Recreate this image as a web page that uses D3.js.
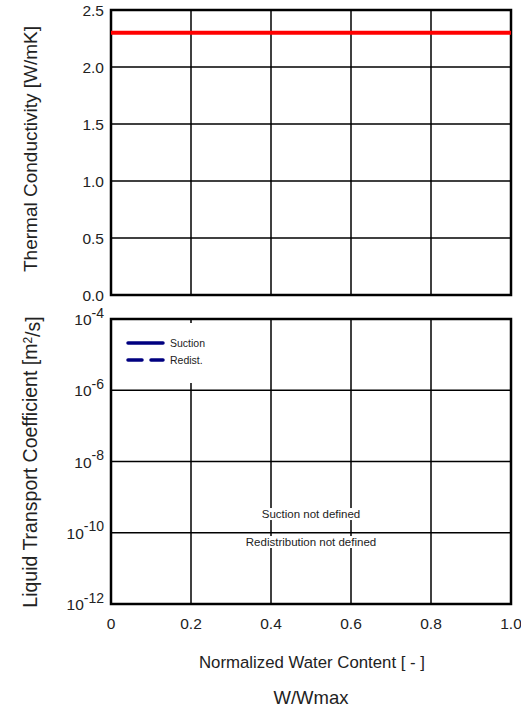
<!DOCTYPE html>
<html><head><meta charset="utf-8">
<script src="https://cdn.jsdelivr.net/npm/d3@7"></script>
<style>
body{margin:0;background:#fff;}
text{font-family:"Liberation Sans",Arial,sans-serif;}
</style></head>
<body><svg id="c" width="521" height="712"></svg>
<script>
const xTicks = [0, 0.2, 0.4, 0.6, 0.8, 1.0];
const xTickLabels = ["0", "0.2", "0.4", "0.6", "0.8", "1.0"];
const tcTicks = [0, 0.5, 1.0, 1.5, 2.0, 2.5];
const tcWater = [0, 1];
const tcValues = [2.3, 2.3];
const ltcExponents = [-12, -10, -8, -6, -4];
const legendNames = ["Suction", "Redist."];
const notes = ["Suction not defined", "Redistribution not defined"];

const svg = d3.select("#c");
const L = 111, R = 511;
const x = d3.scaleLinear().domain([0, 1]).range([L, R]);
const yT = d3.scaleLinear().domain([0, 2.5]).range([295, 10]);
const yL = d3.scaleLog().domain([1e-12, 1e-4]).range([604, 319]);
const txt = "#222";

// top panel grid
const g1 = svg.append("g");
g1.selectAll(".vg").data(xTicks).join("line")
  .attr("x1", d => x(d)).attr("x2", d => x(d)).attr("y1", yT(0)).attr("y2", yT(2.5))
  .attr("stroke", "#000").attr("stroke-width", 1.5);
g1.selectAll(".hg").data(tcTicks).join("line")
  .attr("x1", L).attr("x2", R).attr("y1", d => yT(d)).attr("y2", d => yT(d))
  .attr("stroke", "#000").attr("stroke-width", 1.5);
g1.append("rect").attr("x", L).attr("y", yT(2.5)).attr("width", R - L).attr("height", yT(0) - yT(2.5))
  .attr("fill", "none").attr("stroke", "#000").attr("stroke-width", 2.5);
g1.selectAll(".tl").data(tcTicks).join("text")
  .attr("x", 104).attr("y", d => yT(d)).attr("dy", "0.36em").attr("text-anchor", "end")
  .attr("font-size", 15.5).attr("fill", txt).text(d => d.toFixed(1));
const line = d3.line().x((d, i) => x(tcWater[i])).y(d => yT(d));
g1.append("path").datum(tcValues).attr("d", line)
  .attr("fill", "none").attr("stroke", "#ff0000").attr("stroke-width", 4);

// bottom panel
const g2 = svg.append("g");
g2.selectAll(".vg").data(xTicks).join("line")
  .attr("x1", d => x(d)).attr("x2", d => x(d)).attr("y1", yL(1e-12)).attr("y2", yL(1e-4))
  .attr("stroke", "#000").attr("stroke-width", 1.5);
g2.selectAll(".hg").data(ltcExponents).join("line")
  .attr("x1", L).attr("x2", R).attr("y1", d => yL(Math.pow(10, d))).attr("y2", d => yL(Math.pow(10, d)))
  .attr("stroke", "#000").attr("stroke-width", 1.5);
g2.append("rect").attr("x", L).attr("y", yL(1e-4)).attr("width", R - L).attr("height", yL(1e-12) - yL(1e-4))
  .attr("fill", "none").attr("stroke", "#000").attr("stroke-width", 2.5);
const tl = g2.selectAll(".tl").data(ltcExponents).join("text")
  .attr("x", 104).attr("y", d => yL(Math.pow(10, d))).attr("dy", "0.4em").attr("text-anchor", "end")
  .attr("font-size", 15.5).attr("fill", txt);
tl.append("tspan").text("10");
tl.append("tspan").attr("dy", "-0.55em").attr("font-size", 14).text(d => "-" + Math.abs(d));

// legend with white box
const lg = g2.append("g");
lg.append("rect").attr("x", 114).attr("y", 323).attr("width", 102).attr("height", 60).attr("fill", "#fff");
legendNames.forEach((n, i) => {
  const yy = 343 + i * 17;
  lg.append("line").attr("x1", 128).attr("x2", 163).attr("y1", yy).attr("y2", yy)
    .attr("stroke", "#000080").attr("stroke-width", 3.5).attr("stroke-linecap", "round")
    .attr("stroke-dasharray", i === 1 ? "14,9" : null);
  lg.append("text").attr("x", 170).attr("y", yy).attr("dy", "0.35em")
    .attr("font-size", 10.5).attr("fill", txt).text(n);
});

// notes with white background
notes.forEach((n, i) => {
  const yy = i === 0 ? 514 : 542;
  const t = g2.append("text").attr("x", 311).attr("y", yy).attr("dy", "0.35em")
    .attr("text-anchor", "middle").attr("font-size", 11.5).attr("fill", txt).text(n);
  const bb = t.node().getBBox();
  g2.insert("rect", () => t.node()).attr("x", bb.x - 1).attr("y", bb.y).attr("width", bb.width + 2).attr("height", bb.height).attr("fill", "#fff");
});

// x tick labels
svg.selectAll(".xl").data(xTicks).join("text")
  .attr("x", d => x(d)).attr("y", 623).attr("dy", "0.36em").attr("text-anchor", "middle")
  .attr("font-size", 15.5).attr("fill", txt).text((d, i) => xTickLabels[i]);

// titles
svg.append("text").attr("x", 312).attr("y", 662).attr("dy", "0.36em").attr("text-anchor", "middle")
  .attr("font-size", 16.8).attr("fill", txt).text("Normalized Water Content [ - ]");
svg.append("text").attr("x", 311).attr("y", 697).attr("dy", "0.36em").attr("text-anchor", "middle")
  .attr("font-size", 18.5).attr("fill", txt).text("W/Wmax");
svg.append("text").attr("transform", "translate(30,149) rotate(-90)").attr("dy", "0.36em")
  .attr("text-anchor", "middle").attr("font-size", 19).attr("fill", txt).text("Thermal Conductivity [W/mK]");
const lt = svg.append("text").attr("transform", "translate(30,462) rotate(-90)").attr("dy", "0.36em")
  .attr("text-anchor", "middle").attr("font-size", 19.5).attr("fill", txt);
lt.append("tspan").text("Liquid Transport Coefficient [m");
lt.append("tspan").attr("dy", "-0.4em").attr("font-size", 12).text("2");
lt.append("tspan").attr("dy", "0.4em").text("/s]");
</script></body></html>
